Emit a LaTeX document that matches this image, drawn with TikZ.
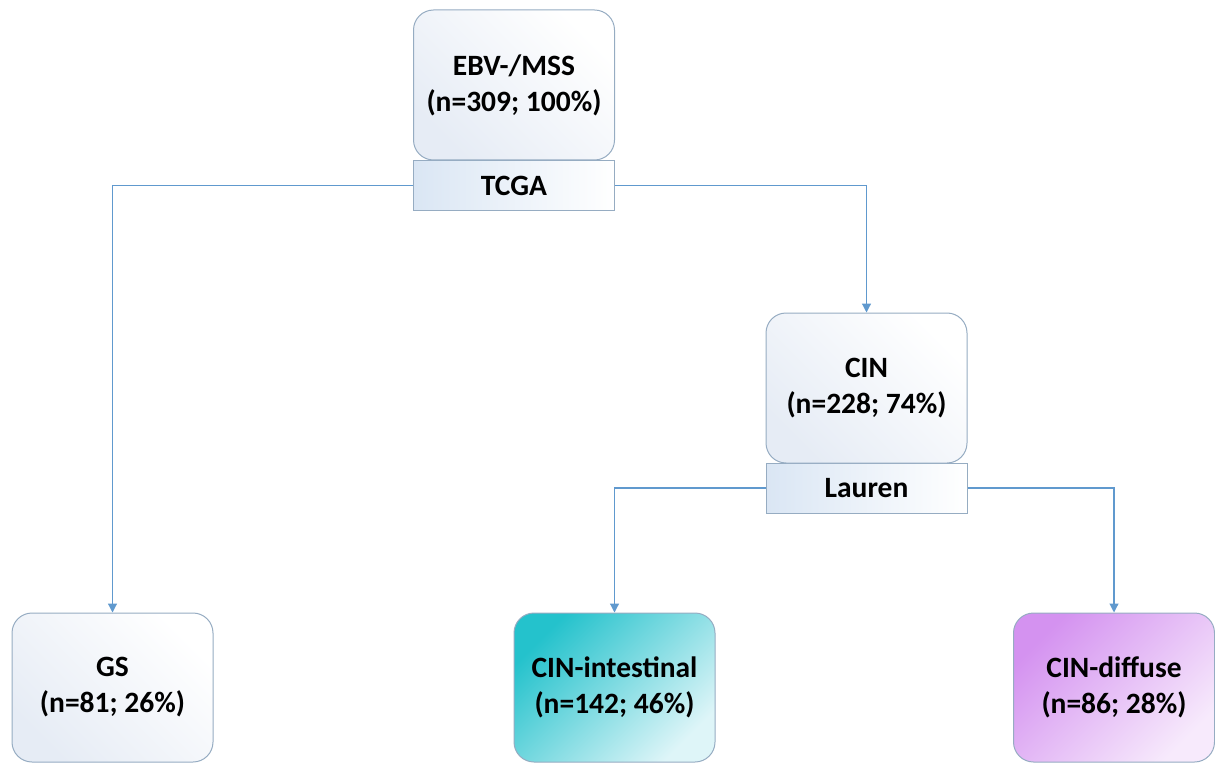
\documentclass[tikz,border=0pt]{standalone}
\usepackage{fontspec}
\setmainfont{Carlito}
\usetikzlibrary{arrows.meta}
\definecolor{boxline}{RGB}{150,172,194}
\definecolor{linkblue}{RGB}{96,153,206}
\definecolor{paleblue}{RGB}{230,236,245}
\definecolor{tagblue}{RGB}{218,230,244}
\definecolor{tealtop}{RGB}{36,194,204}
\definecolor{tealbot}{RGB}{222,245,248}
\definecolor{violettop}{RGB}{212,146,240}
\definecolor{violetbot}{RGB}{247,234,252}

\begin{document}
\begin{tikzpicture}[
    x=1pt, y=-1pt,
    group/.style={rectangle, rounded corners=20pt, draw=boxline, line width=1pt,
        left color=paleblue, right color=white, shading angle=135,
        minimum width=201pt, minimum height=149pt, align=center,
        font=\bfseries\fontsize{29.5}{36}\selectfont},
    tag/.style={rectangle, draw=boxline, line width=1pt,
        left color=tagblue, right color=white,
        minimum width=201pt, minimum height=50pt,
        font=\bfseries\fontsize{29.5}{36}\selectfont},
    link/.style={draw=linkblue, line width=1.2pt,
        -{Triangle[width=9pt,length=9pt]}}
]
    \useasboundingbox (0,0) rectangle (1215,767);
    \node[tag] (tcga) at (514,185.5) {TCGA};
    \node[group, minimum height=150pt] (root) at (514,85) {EBV-/MSS\\(n=309; 100\%)};
    \node[tag] (lauren) at (866.5,488) {Lauren};
    \node[group, minimum height=150pt] (cin) at (866.5,388) {CIN\\(n=228; 74\%)};
    \node[group] (gs) at (112.5,687.5) {GS\\(n=81; 26\%)};
    \node[group, left color=tealtop, right color=tealbot, shading angle=45]
        (intest) at (614.5,687.5) {CIN-intestinal\\(n=142; 46\%)};
    \node[group, left color=violettop, right color=violetbot, shading angle=45]
        (diffuse) at (1114,687.5) {CIN-diffuse\\(n=86; 28\%)};
    \draw[link] (tcga.west) -| (gs.north);
    \draw[link] (tcga.east) -| (cin.north);
    \draw[link] (lauren.west) -| (intest.north);
    \draw[link] (lauren.east) -| (diffuse.north);
\end{tikzpicture}
\end{document}
